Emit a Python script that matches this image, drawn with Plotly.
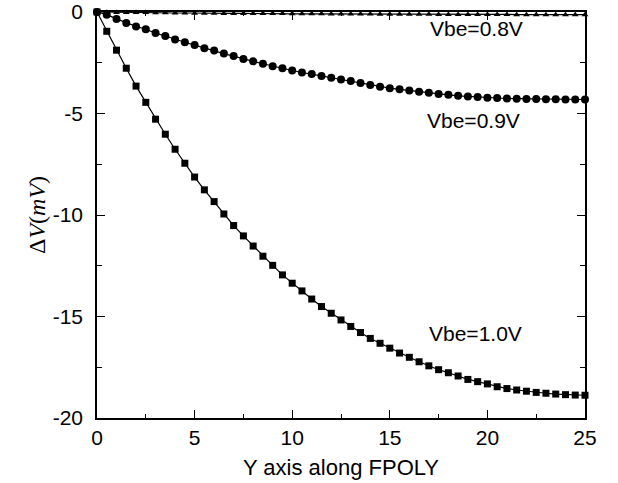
import plotly.graph_objects as go

# Y position along FPOLY (x axis)
y_pos = [i * 0.5 for i in range(51)]

dv_08 = [0.0, -0.01, -0.02, -0.02, -0.03, -0.03, -0.04, -0.04, -0.05, -0.05,
         -0.06, -0.06, -0.06, -0.07, -0.07, -0.07, -0.08, -0.08, -0.08, -0.08,
         -0.09, -0.09, -0.09, -0.09, -0.10, -0.10, -0.10, -0.10, -0.10, -0.11,
         -0.11, -0.11, -0.11, -0.11, -0.11, -0.12, -0.12, -0.12, -0.12, -0.12,
         -0.12, -0.12, -0.12, -0.13, -0.13, -0.13, -0.13, -0.13, -0.13, -0.13, -0.13]

dv_09 = [0.0, -0.13, -0.34, -0.54, -0.71, -0.85, -1.04, -1.18, -1.35, -1.49,
         -1.63, -1.78, -1.90, -2.05, -2.17, -2.31, -2.43, -2.55, -2.67, -2.77,
         -2.88, -2.98, -3.05, -3.15, -3.24, -3.33, -3.40, -3.50, -3.60, -3.68,
         -3.75, -3.81, -3.87, -3.93, -3.98, -4.04, -4.08, -4.13, -4.16, -4.19,
         -4.22, -4.24, -4.26, -4.27, -4.28, -4.29, -4.30, -4.30, -4.31, -4.31, -4.31]

dv_10 = [0.0, -0.95, -1.88, -2.77, -3.65, -4.45, -5.28, -6.02, -6.76, -7.45,
         -8.13, -8.76, -9.34, -9.95, -10.52, -11.03, -11.53, -12.03, -12.48, -12.95,
         -13.36, -13.74, -14.14, -14.51, -14.84, -15.17, -15.49, -15.79, -16.08, -16.32,
         -16.56, -16.80, -17.01, -17.23, -17.43, -17.62, -17.77, -17.93, -18.10, -18.21,
         -18.32, -18.46, -18.55, -18.62, -18.68, -18.74, -18.78, -18.82, -18.85, -18.87, -18.88]

x_ticks = [0, 5, 10, 15, 20, 25]
x_ticktext = ["0", "5", "10", "15", "20", "25"]
y_ticks = [0, -5, -10, -15, -20]
y_ticktext = ["0", "-5", "-10", "-15", "-20"]

labels = ["Vbe=0.8V", "Vbe=0.9V", "Vbe=1.0V"]
label_x = [19.45, 19.3, 19.4]
label_y = [-0.8, -5.32, -15.86]

fig = go.Figure()
fig.add_trace(go.Scatter(x=y_pos, y=dv_08, mode="lines+markers",
                         line=dict(color="black", width=1.2),
                         marker=dict(symbol="triangle-up", size=6, color="black"),
                         cliponaxis=False, showlegend=False))
fig.add_trace(go.Scatter(x=y_pos, y=dv_09, mode="lines+markers",
                         line=dict(color="black", width=1.2),
                         marker=dict(symbol="circle", size=8, color="black"),
                         cliponaxis=False, showlegend=False))
fig.add_trace(go.Scatter(x=y_pos, y=dv_10, mode="lines+markers",
                         line=dict(color="black", width=1.2),
                         marker=dict(symbol="square", size=7, color="black"),
                         cliponaxis=False, showlegend=False))

for t, xx, yy in zip(labels, label_x, label_y):
    fig.add_annotation(x=xx, y=yy, text=t, showarrow=False,
                       font=dict(family="Liberation Sans, Arial", size=21, color="black"),
                       xanchor="center", yanchor="middle")

axis_font = dict(family="Liberation Sans, Arial", size=21, color="black")

fig.update_layout(
    width=618, height=483,
    margin=dict(l=97, r=33, t=12, b=65),
    paper_bgcolor="white", plot_bgcolor="white",
    xaxis=dict(range=[0, 25], tickvals=x_ticks, ticktext=x_ticktext,
               ticks="inside", ticklen=8, tickwidth=1, tickcolor="black",
               showline=True, linecolor="black", linewidth=1.5, mirror="ticks",
               showgrid=False, zeroline=False, tickfont=axis_font,
               minor=dict(ticks="inside", ticklen=4, dtick=2.5, tick0=0,
                          tickcolor="black", showgrid=False),
               title=dict(text="Y axis along FPOLY", standoff=12,
                          font=dict(family="Liberation Sans, Arial", size=22, color="black")),
               automargin=False),
    yaxis=dict(range=[-20, 0], tickvals=y_ticks, ticktext=y_ticktext,
               ticks="inside", ticklen=8, tickwidth=1, tickcolor="black",
               showline=True, linecolor="black", linewidth=1.5, mirror="ticks",
               showgrid=False, zeroline=False, tickfont=axis_font,
               ticklabelstandoff=8,
               minor=dict(ticks="inside", ticklen=5, dtick=2.5, tick0=0,
                          tickcolor="black", showgrid=False),
               title=dict(text="Δ<i>V</i>(<i>mV</i>)", standoff=0,
                          font=dict(family="Liberation Serif, Times New Roman", size=24, color="black")),
               automargin=False),
)

fig.write_html("out.html")
